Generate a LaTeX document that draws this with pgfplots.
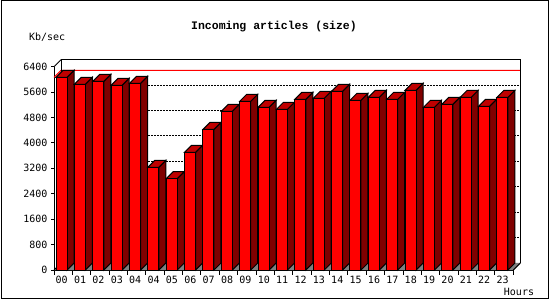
\documentclass[border=0pt]{standalone}
\usepackage{pgfplots}
\usepackage{pgfplotstable}
\pgfplotsset{compat=1.18}
\usepackage{fontspec}
\setmainfont{DejaVu Sans}
\newfontfamily\monob{Liberation Mono}
\newfontfamily\lab{DejaVu Sans Mono}
\definecolor{bfront}{RGB}{255,0,0}
\definecolor{btop}{RGB}{192,0,0}
\definecolor{bside}{RGB}{128,0,0}
\definecolor{floorc}{RGB}{128,128,128}
\tikzset{bk/.style={xshift=7bp,yshift=7bp}}

\pgfplotstableread{
i v
0 6066
1 5846
2 5940
3 5814
4 5877
5 3233
6 2875
7 3705
8 4429
9 4996
10 5311
11 5122
12 5059
13 5374
14 5405
15 5626
16 5342
17 5437
18 5374
19 5657
20 5122
21 5216
22 5437
23 5153
24 5437
}\datatable

\pgfdeclareplotmark{nothing}{}

\newcommand\drawbar{%
 \pgfmathsetlengthmacro\H{\val*0.031885}%
 \pgfmathsetlengthmacro\Hs{7.0263-\val*0.031885}%
 \pgfsetlinewidth{1bp}\pgfsetstrokecolor{black}%
 \pgfsetfillcolor{bside}%
 \pgfpathmoveto{\pgfqpoint{3.83bp}{0pt}}%
 \pgfpathlineto{\pgfqpoint{10.83bp}{7bp}}%
 \pgfpathlineto{\pgfqpoint{10.83bp}{\Hs}}%
 \pgfpathlineto{\pgfqpoint{3.83bp}{-\H}}%
 \pgfpathclose\pgfusepath{fill,stroke}%
 \pgfsetfillcolor{btop}%
 \pgfpathmoveto{\pgfqpoint{-7.17bp}{0pt}}%
 \pgfpathlineto{\pgfqpoint{3.83bp}{0pt}}%
 \pgfpathlineto{\pgfqpoint{10.83bp}{7bp}}%
 \pgfpathlineto{\pgfqpoint{-0.17bp}{7bp}}%
 \pgfpathclose\pgfusepath{fill,stroke}%
 \pgfsetfillcolor{bfront}%
 \pgfpathrectanglecorners{\pgfqpoint{-7.17bp}{-\H}}{\pgfqpoint{3.83bp}{0pt}}%
 \pgfusepath{fill,stroke}%
}

\begin{document}
\begin{tikzpicture}
\useasboundingbox (0,0) rectangle (550bp,300bp);
\fill[white] (0,0) rectangle (550bp,300bp);
\draw[line width=1bp] (1bp,1.2bp) rectangle (548.5bp,299.5bp);
\begin{axis}[
  at={(54bp,30bp)}, anchor=south west,
  scale only axis, width=459.3bp, height=203.3bp,
  xmin=-0.5, xmax=24.5, ymin=0, ymax=6400,
  axis x line*=bottom, axis y line*=left,
  axis line style={line width=1bp, black, -},
  clip=false,
  ytick={0,800,...,6400},
  xtick={0,...,24},
  xticklabels={00,01,02,03,04,04,05,06,07,08,09,10,11,12,13,14,15,16,17,18,19,20,21,22,23},
  minor xtick={-0.5,0.5,...,24.5},
  tick align=outside,
  major tick length=3bp, minor tick length=4.5bp,
  tick style={black, line width=1bp},
  major x tick style={draw=none},
  scaled y ticks=false,
  /pgf/number format/assume math mode=true,
  /pgf/number format/1000 sep={},
  ticklabel style={font=\lab\fontsize{10bp}{12bp}\selectfont},
  xticklabel style={xshift=-1.5bp},
]
% floor
\fill[floorc] (axis cs:-0.5,0) -- (axis cs:24.5,0) -- ([bk]axis cs:24.5,0) -- ([bk]axis cs:-0.5,0) -- cycle;
% grid on back wall
\pgfplotsinvokeforeach{800,1600,2400,3200,4000,4800,5600}{
  \draw[line width=1bp, dash pattern=on 1.5bp off 1.5bp] ([bk]axis cs:-0.5,#1) -- ([bk]axis cs:24.5,#1);
}
% max line
\draw[line width=1bp, red] (axis cs:-0.5,6066) -- ([bk]axis cs:-0.5,6066) -- ([bk]axis cs:24.5,6066);
% walls
\draw[line width=1bp] ([bk]axis cs:-0.5,0) -- ([bk]axis cs:-0.5,6400) -- ([bk]axis cs:24.5,6400) -- ([bk]axis cs:24.5,0);
\draw[line width=1bp] (axis cs:-0.5,6400) -- ([bk]axis cs:-0.5,6400);
\draw[line width=1bp] (axis cs:-0.5,0) -- ([bk]axis cs:-0.5,0);
\draw[line width=1bp] (axis cs:24.5,0) -- ([bk]axis cs:24.5,0);
% bars
\addplot[scatter, only marks, mark=nothing,
  visualization depends on={rawy \as \val},
  scatter/@pre marker code/.code={\drawbar},
  scatter/@post marker code/.code={}]
  table[x=i, y=v] {\datatable};
\end{axis}
\node[font=\monob\bfseries\fontsize{11.5bp}{13bp}\selectfont] at (274bp,273bp) {Incoming articles (size)};
\node[font=\lab\fontsize{10bp}{12bp}\selectfont] at (47.2bp,263bp) {Kb/sec};
\node[font=\lab\fontsize{10bp}{12bp}\selectfont] at (519bp,7.7bp) {Hours};
\end{tikzpicture}
\end{document}
